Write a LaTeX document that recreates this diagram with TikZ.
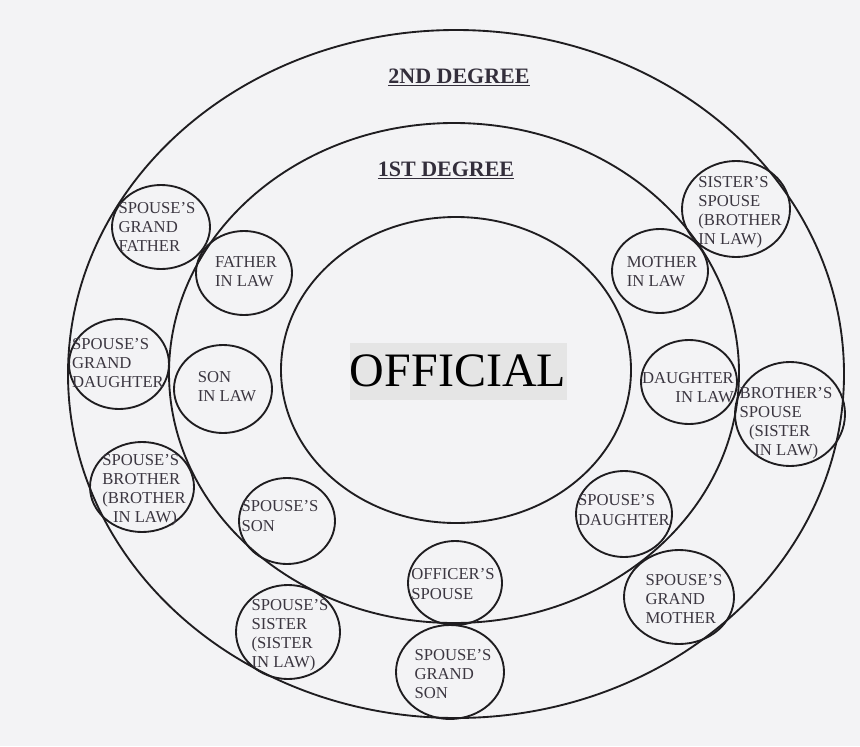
\documentclass[tikz,border=0pt]{standalone}
\usepackage{fontspec}
\setmainfont{Liberation Serif}
\usetikzlibrary{shapes.geometric}

\newlength{\du}
\setlength{\du}{0.75pt}

\definecolor{papercolor}{rgb}{0.953, 0.953, 0.961}
\definecolor{ringcolor}{rgb}{0.120, 0.115, 0.125}
\definecolor{labelcolor}{rgb}{0.230, 0.210, 0.250}
\definecolor{headcolor}{rgb}{0.200, 0.180, 0.230}
\definecolor{stampcolor}{rgb}{0.898, 0.898, 0.898}

\tikzset{
  ring/.style 2 args={draw=ringcolor, ellipse, line width=1.4pt, inner sep=0pt,
    minimum width=#1\du, minimum height=#2\du},
  kinlabel/.style={text=labelcolor, align=left, inner sep=0pt,
    font=\fontsize{12.5}{14.3}\selectfont},
  degreelabel/.style={text=headcolor, anchor=base, inner sep=0pt,
    font=\fontsize{16.5}{18}\selectfont\bfseries},
}

\begin{document}
\begin{tikzpicture}
\pgftransformxscale{1.000000}
\pgftransformyscale{-1.000000}
% paper
\fill[papercolor] (0\du,0\du) rectangle (860\du,746\du);
\useasboundingbox (0\du,0\du) rectangle (860\du,746\du);
% degree rings
\node[ring={776}{688}] (second) at (456\du,374\du) {};
\node[ring={570}{500}] (first) at (454\du,373\du) {};
\node[ring={350}{306}] (inner) at (456\du,370\du) {};
\node[degreelabel] (second-t) at (459\du,83\du) {\underline{2ND DEGREE}};
\node[degreelabel] (first-t) at (446\du,176\du) {\underline{1ST DEGREE}};
% centre
\node[fill=stampcolor, inner sep=0pt, minimum width=217\du, minimum height=57\du,
  font=\fontsize{36}{40}\selectfont] (official) at (458\du,371\du) {OFFICIAL};
% relatives, left side
\node[ring={98}{84}] (gfather) at (161\du,227\du) {};
\node[kinlabel] (gfather-t) at (157\du,227\du) {SPOUSE'S\\GRAND\\FATHER};
\node[ring={96}{84}] (fatherlaw) at (244\du,273\du) {};
\node[kinlabel] (fatherlaw-t) at (246\du,272\du) {FATHER\\IN LAW};
\node[ring={100}{90}] (gdaughter) at (119\du,364\du) {};
\node[kinlabel] (gdaughter-t) at (118\du,363\du) {SPOUSE'S\\GRAND\\DAUGHTER};
\node[ring={98}{88}] (sonlaw) at (223\du,389\du) {};
\node[kinlabel] (sonlaw-t) at (227\du,387\du) {SON\\IN LAW};
\node[ring={104}{90}] (spbrother) at (142\du,487\du) {};
\node[kinlabel] (spbrother-t) at (144\du,490\du) {SPOUSE'S\\BROTHER\\(BROTHER\\\hspace{8pt}IN LAW)};
\node[ring={96}{86}] (spson) at (287\du,521\du) {};
\node[kinlabel] (spson-t) at (280\du,516\du) {SPOUSE'S\\SON};
\node[ring={104}{94}] (spsister) at (288\du,632\du) {};
\node[kinlabel] (spsister-t) at (290\du,635\du) {SPOUSE'S\\SISTER\\(SISTER\\IN LAW)};
% relatives, bottom
\node[ring={94}{84}] (offspouse) at (455\du,583\du) {};
\node[kinlabel] (offspouse-t) at (453\du,584\du) {OFFICER'S\\SPOUSE};
\node[ring={108}{94}] (gson) at (450\du,672\du) {};
\node[kinlabel] (gson-t) at (453\du,674\du) {SPOUSE'S\\GRAND\\SON};
% relatives, right side
\node[ring={108}{96}] (sisspouse) at (736\du,209\du) {};
\node[kinlabel] (sisspouse-t) at (740\du,212\du) {SISTER'S\\SPOUSE\\(BROTHER\\IN LAW)};
\node[ring={96}{84}] (motherlaw) at (660\du,271\du) {};
\node[kinlabel] (motherlaw-t) at (662\du,272\du) {MOTHER\\IN LAW};
\node[ring={96}{84}] (daughterlaw) at (689\du,382\du) {};
\node[kinlabel, align=right] (daughterlaw-t) at (688\du,388\du) {DAUGHTER\\IN LAW};
\node[ring={110}{104}] (brospouse) at (790\du,414\du) {};
\node[kinlabel] (brospouse-t) at (786\du,423\du) {BROTHER'S\\SPOUSE\\\hspace{7pt}(SISTER\\\hspace{11pt}IN LAW)};
\node[ring={96}{86}] (spdaughter) at (624\du,514\du) {};
\node[kinlabel] (spdaughter-t) at (624\du,510\du) {SPOUSE'S\\DAUGHTER};
\node[ring={110}{94}] (gmother) at (679\du,597\du) {};
\node[kinlabel] (gmother-t) at (684\du,599\du) {SPOUSE'S\\GRAND\\MOTHER};
\end{tikzpicture}
\end{document}
